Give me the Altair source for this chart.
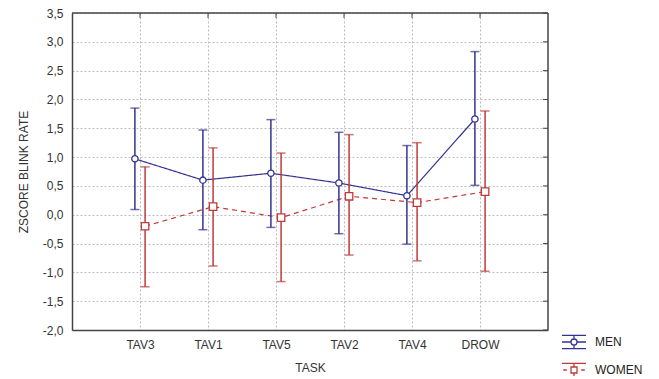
import altair as alt
import pandas as pd

tasks = ["TAV3", "TAV1", "TAV5", "TAV2", "TAV4", "DROW"]
men_mean = [0.97, 0.60, 0.72, 0.55, 0.33, 1.66]
men_upper = [1.85, 1.47, 1.65, 1.43, 1.20, 2.83]
men_lower = [0.09, -0.26, -0.22, -0.33, -0.51, 0.51]
women_mean = [-0.20, 0.14, -0.05, 0.32, 0.21, 0.40]
women_upper = [0.83, 1.16, 1.07, 1.39, 1.25, 1.80]
women_lower = [-1.25, -0.89, -1.16, -0.70, -0.80, -0.98]
groups = ["MEN", "WOMEN"]
y_ticks = [-2.0, -1.5, -1.0, -0.5, 0.0, 0.5, 1.0, 1.5, 2.0, 2.5, 3.0, 3.5]

rows = []
for i, t in enumerate(tasks):
    rows.append(dict(task=t, idx=i + 1, group="MEN", mean=men_mean[i], lo=men_lower[i], hi=men_upper[i]))
    rows.append(dict(task=t, idx=i + 1, group="WOMEN", mean=women_mean[i], lo=women_lower[i], hi=women_upper[i]))
df = pd.DataFrame(rows)

blue = "#33338f"
red = "#c03a3a"
W, H = 476, 317

label_list = "[" + ",".join("'" + t + "'" for t in [""] + tasks + [""]) + "]"

xscale = alt.Scale(domain=[0, 7], nice=False, zero=False)
yscale = alt.Scale(domain=[-2.0, 3.5], nice=False, zero=False)
cscale = alt.Scale(domain=groups, range=[blue, red])

base = alt.Chart(df).transform_calculate(
    xp="datum.idx + (datum.group == 'MEN' ? -0.075 : 0.075)"
)

# legend icons (line + error-bar + marker), as symbol paths
icon_common = "M-1,-0.55H1M-1,0.55H1M0,-0.55V-0.25M0,0.25V0.55"
men_icon = icon_common + "M-1,0H-0.25M0.25,0H1M0.25,0A0.25,0.25 0 1 1 -0.25,0A0.25,0.25 0 1 1 0.25,0Z"
women_icon = icon_common + "M-0.9,0H-0.6M0.6,0H0.9M-0.25,-0.25H0.25V0.25H-0.25Z"

leg = alt.Legend(
    title=None, orient="none", legendX=489, legendY=316,
    labelFont="Liberation Sans", labelFontSize=12, labelFontWeight="normal",
    labelColor="#222", symbolSize=576, symbolStrokeWidth=1.3, rowPadding=5, labelOffset=8,
    symbolOpacity=1,
)

axis_common = dict(grid=True, gridDash=[2, 2], gridColor="#bbbbbb", tickSize=0,
                   labelFont="Liberation Sans", labelFontSize=12, labelColor="#333",
                   titleFont="Liberation Sans", titleFontSize=12, titleFontWeight="normal",
                   titleColor="#333", domainColor="#444", domainWidth=1.5, labelOverlap=False)

xaxis = alt.Axis(values=[1, 2, 3, 4, 5, 6], title="TASK",
                 labelExpr=label_list + "[datum.value]",
                 labelPadding=9, titlePadding=12, **axis_common)
yaxis = alt.Axis(values=y_ticks, title="ZSCORE BLINK RATE",
                 labelExpr="replace(replace(format(datum.value, '.1f'), '.', ','), '\u2212', '-')",
                 labelPadding=9, titlePadding=12, **axis_common)


def X(field="xp:Q"):
    return alt.X(field, scale=xscale, axis=xaxis)


def Y(field):
    return alt.Y(field, scale=yscale, axis=yaxis)


styles = {
    "MEN": dict(color=blue, dash=[1, 0], shape="circle", size=40),
    "WOMEN": dict(color=red, dash=[5, 4], shape="square", size=55),
}

layers = []
for g in groups:
    s = styles[g]
    sub = base.transform_filter("datum.group == '%s'" % g)
    layers.append(sub.mark_line(strokeWidth=1.2, color=s["color"], strokeDash=s["dash"]).encode(
        x=X(), y=Y("mean:Q")))
for g in groups:
    s = styles[g]
    sub = base.transform_filter("datum.group == '%s'" % g)
    layers.append(sub.mark_rule(strokeWidth=1.5, color=s["color"]).encode(
        x=X(), y=Y("lo:Q"), y2="hi:Q"))
    layers.append(sub.mark_tick(orient="horizontal", size=9, thickness=1.5, color=s["color"]).encode(
        x=X(), y=Y("hi:Q")))
    layers.append(sub.mark_tick(orient="horizontal", size=9, thickness=1.5, color=s["color"]).encode(
        x=X(), y=Y("lo:Q")))
for g in groups:
    s = styles[g]
    sub = base.transform_filter("datum.group == '%s'" % g)
    layers.append(sub.mark_point(shape=s["shape"], filled=True, fill="white", stroke=s["color"],
                                 strokeWidth=1.3, size=s["size"], opacity=1).encode(
        x=X(), y=Y("mean:Q")))

# invisible layer that only feeds the legend
legend_layer = base.mark_point(filled=False, opacity=0).encode(
    x=X(), y=Y("mean:Q"),
    color=alt.Color("group:N", scale=cscale, legend=leg),
    shape=alt.Shape("group:N", scale=alt.Scale(domain=groups, range=[men_icon, women_icon]), legend=leg),
)
layers.append(legend_layer)

# inward ticks on top and right edges, and frame
layers.append(alt.Chart(pd.DataFrame({"xp": [1, 2, 3, 4, 5, 6]})).mark_rule(color="#444", strokeWidth=1).encode(
    x=X(), y=alt.value(0), y2=alt.value(5)))
layers.append(alt.Chart(pd.DataFrame({"v": y_ticks})).mark_rule(color="#444", strokeWidth=1).encode(
    y=Y("v:Q"), x=alt.value(W - 5), x2=alt.value(W)))
layers.append(alt.Chart(pd.DataFrame({"a": [0]})).mark_rule(color="#444", strokeWidth=1.5).encode(
    x=alt.value(0), x2=alt.value(W), y=alt.value(0)))
layers.append(alt.Chart(pd.DataFrame({"a": [0]})).mark_rule(color="#444", strokeWidth=1.5).encode(
    x=alt.value(W), y=alt.value(0), y2=alt.value(H)))

chart = alt.layer(*layers).properties(
    width=W, height=H, autosize=alt.AutoSizeParams(type="none"),
    padding={"left": 64, "top": 5, "right": 100, "bottom": 46},
    background="white",
).configure_view(stroke=None)

chart.save("out.html", embed_options={"renderer": "svg", "actions": False})
